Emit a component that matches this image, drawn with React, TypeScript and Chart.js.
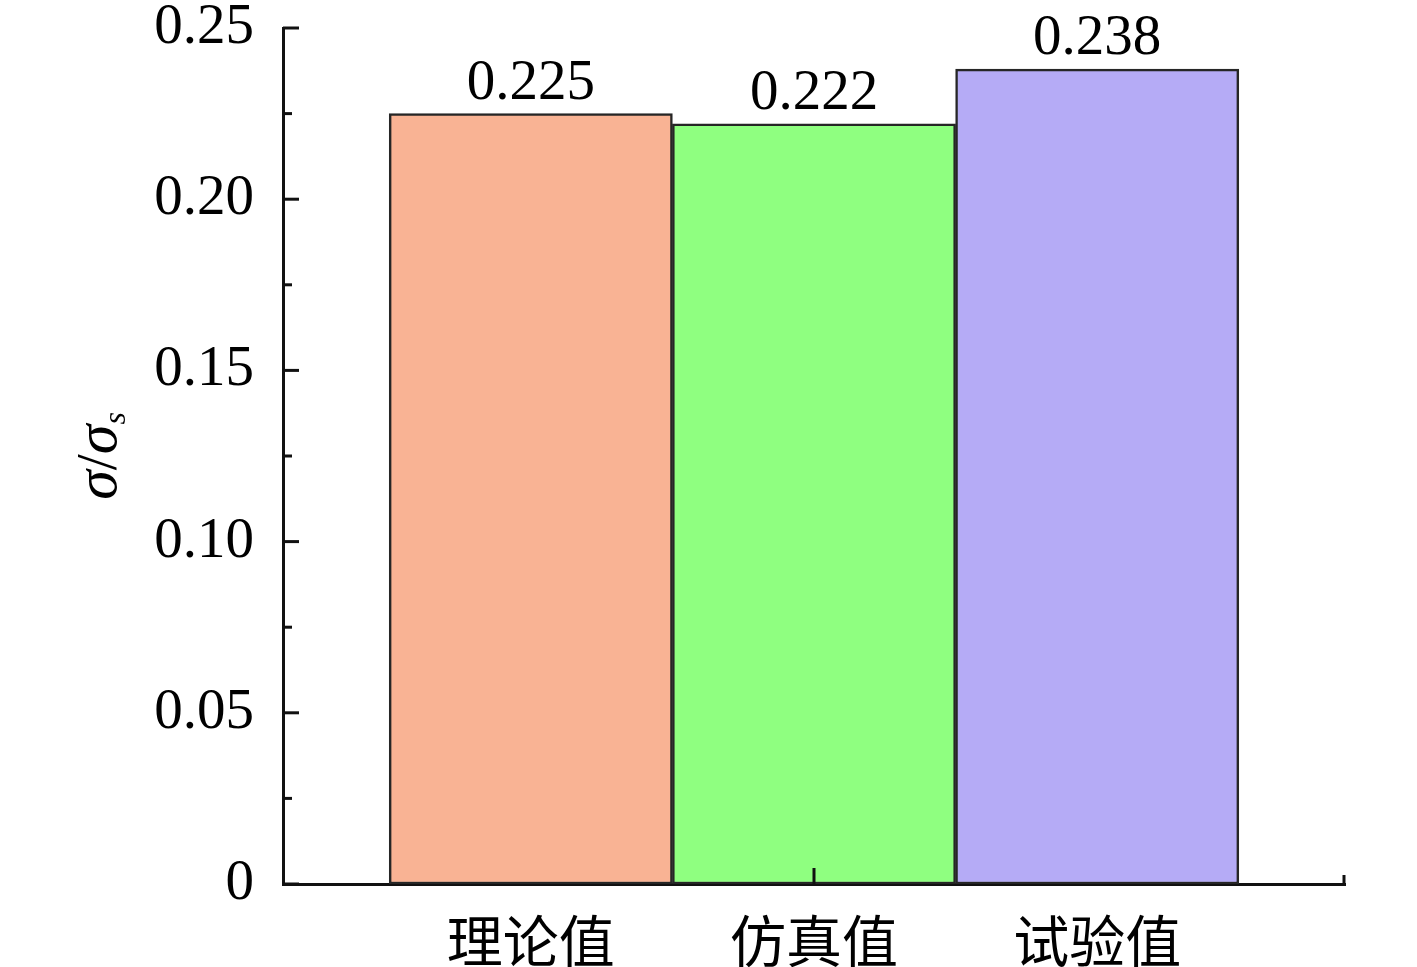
import React, { useEffect, useRef } from 'react';
import { Chart, registerables } from 'chart.js';

Chart.register(...registerables);

const categories = ['理论值', '仿真值', '试验值'];
const categoryPositions = [1, 2, 3];
const values = [0.225, 0.222, 0.238];
const valueLabels = ['0.225', '0.222', '0.238'];
const barColors = ['#F9B394', '#8FFF80', '#B5ABF6'];
const yTickValues = [0, 0.05, 0.1, 0.15, 0.2, 0.25];
const yMinorTickValues = [0.025, 0.075, 0.125, 0.175, 0.225];
const xMajorTickValues = [2];
const xMinorTickValues = [3.875];

const SERIF = '"Liberation Serif", "Times New Roman", "Noto Sans CJK SC", serif';

const overlayPlugin = {
  id: 'overlay',
  afterDatasetsDraw(chart: any) {
    const ctx: CanvasRenderingContext2D = chart.ctx;
    const xs = chart.scales.x;
    const ys = chart.scales.y;
    const area = chart.chartArea;
    ctx.save();
    ctx.strokeStyle = '#111';
    ctx.lineWidth = 3;
    const line = (x1: number, y1: number, x2: number, y2: number) => {
      ctx.beginPath();
      ctx.moveTo(x1, y1);
      ctx.lineTo(x2, y2);
      ctx.stroke();
    };
    yTickValues.forEach((v) => {
      const py = ys.getPixelForValue(v);
      line(area.left, py, area.left + 16, py);
    });
    yMinorTickValues.forEach((v) => {
      const py = ys.getPixelForValue(v);
      line(area.left, py, area.left + 9, py);
    });
    xMajorTickValues.forEach((v) => {
      const px = xs.getPixelForValue(v);
      line(px, area.bottom, px, area.bottom - 16);
    });
    xMinorTickValues.forEach((v) => {
      const px = xs.getPixelForValue(v);
      line(px - 1, area.bottom, px - 1, area.bottom - 9);
    });

    // value labels
    ctx.fillStyle = '#000';
    ctx.font = `57px ${SERIF}`;
    ctx.textAlign = 'center';
    ctx.textBaseline = 'alphabetic';
    const meta = chart.getDatasetMeta(0);
    meta.data.forEach((bar: any, i: number) => {
      ctx.fillText(valueLabels[i], bar.x, bar.y - 15);
    });

    // y axis title: σ/σs
    const cy = (area.top + area.bottom) / 2;
    ctx.translate(116, cy);
    ctx.rotate(-Math.PI / 2);
    ctx.textAlign = 'left';
    const big = `italic 60px ${SERIF}`;
    const slash = `58px ${SERIF}`;
    const sub = `italic 32px ${SERIF}`;
    const parts: [string, string, number][] = [
      ['σ', big, 0],
      ['/', slash, 0],
      ['σ', big, 0],
      ['s', sub, 9],
    ];
    let total = 0;
    parts.forEach(([t, f]) => {
      ctx.font = f;
      total += ctx.measureText(t).width;
    });
    let x = -total / 2;
    parts.forEach(([t, f, dy]) => {
      ctx.font = f;
      ctx.fillText(t, x, dy);
      x += ctx.measureText(t).width;
    });
    ctx.restore();
  },
};

export default function App() {
  const canvasRef = useRef<HTMLCanvasElement | null>(null);

  useEffect(() => {
    document.body.style.margin = '0';
    const canvas = canvasRef.current;
    if (!canvas) return;
    const chart = new Chart(canvas, {
      type: 'bar',
      data: {
        datasets: [
          {
            data: categoryPositions.map((p, i) => ({ x: p, y: values[i] })),
            backgroundColor: barColors,
            borderColor: '#262626',
            borderWidth: 2.5,
            borderSkipped: false,
            barPercentage: 1,
            categoryPercentage: 1,
          },
        ],
      },
      options: {
        animation: false,
        responsive: true,
        maintainAspectRatio: false,
        layout: {
          autoPadding: false,
          padding: { top: 28, right: 72, left: 0, bottom: 0 },
        },
        plugins: {
          legend: { display: false },
          tooltip: { enabled: false },
        },
        scales: {
          x: {
            type: 'linear',
            min: 0.125,
            max: 3.875,
            offset: false,
            grid: { display: false, offset: false },
            border: { display: true, color: '#111', width: 3 },
            afterBuildTicks: (scale: any) => {
              scale.ticks = categoryPositions.map((v) => ({ value: v }));
            },
            afterFit: (scale: any) => {
              scale.height = 83;
              scale.paddingLeft = 0;
              scale.paddingRight = 0;
            },
            ticks: {
              autoSkip: false,
              maxRotation: 0,
              padding: 22,
              color: '#000',
              font: { family: SERIF, size: 56 },
              callback: (v: any) => {
                const idx = categoryPositions.indexOf(Number(v));
                return idx >= 0 ? categories[idx] : '';
              },
            },
          },
          y: {
            type: 'linear',
            min: 0,
            max: 0.25,
            grid: { display: false },
            border: { display: true, color: '#111', width: 3 },
            afterBuildTicks: (scale: any) => {
              scale.ticks = yTickValues.map((v) => ({ value: v }));
            },
            afterFit: (scale: any) => {
              scale.width = 283;
              scale.paddingTop = 0;
              scale.paddingBottom = 0;
            },
            ticks: {
              padding: 21,
              color: '#000',
              font: { family: SERIF, size: 57 },
              callback: (v: any) => (Number(v) === 0 ? '0' : Number(v).toFixed(2)),
            },
          },
        },
      },
      plugins: [overlayPlugin],
    } as any);
    return () => chart.destroy();
  }, []);

  return (
    <div style={{ position: 'relative', width: 1417, height: 967, background: '#fff' }}>
      <canvas ref={canvasRef} />
    </div>
  );
}
